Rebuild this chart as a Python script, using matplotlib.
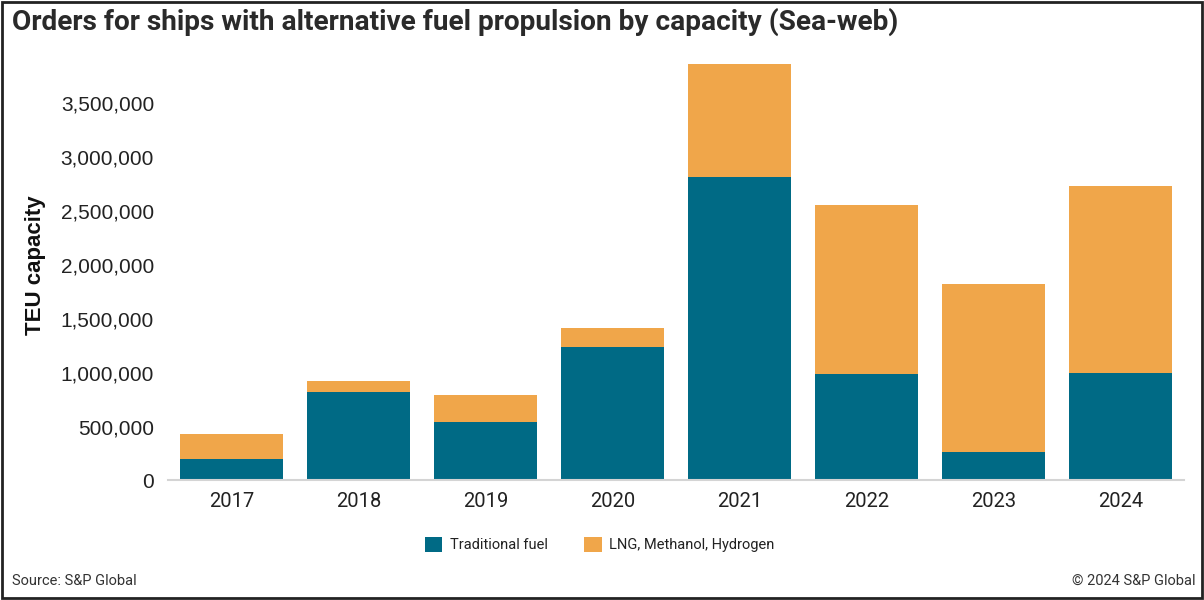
import matplotlib
matplotlib.use("Agg")
import matplotlib.pyplot as plt
from matplotlib.patches import Rectangle, Patch
from matplotlib.ticker import FuncFormatter

plt.rcParams['font.family'] = ['Roboto', 'DejaVu Sans']

years = ["2017", "2018", "2019", "2020", "2021", "2022", "2023", "2024"]
traditional = [202000, 819000, 539000, 1233000, 2813000, 986000, 264000, 993000]
alternative = [226000, 102000, 255000, 182000, 1050000, 1565000, 1553000, 1740000]
series_names = ["Traditional fuel", "LNG, Methanol, Hydrogen"]
colors = ["#006A85", "#F0A64A"]
yticks = [0, 500000, 1000000, 1500000, 2000000, 2500000, 3000000, 3500000]

fig = plt.figure(figsize=(12.04, 6.0), dpi=100)
ax = fig.add_axes([0.1395, 0.1992, 0.8439, 0.7192])

x = list(range(len(years)))
ax.bar(x, traditional, width=0.805, color=colors[0], label=series_names[0], zorder=2)
ax.bar(x, alternative, width=0.805, bottom=traditional, color=colors[1], label=series_names[1], zorder=2)

ax.set_xlim(-0.5, len(years) - 0.5)
ax.set_ylim(0, 4000000)
ax.set_yticks(yticks)
ax.yaxis.set_major_formatter(FuncFormatter(lambda v, p: f"{int(v):,}"))
ax.set_xticks(x)
ax.set_xticklabels(years)
for s in ["top", "right", "left"]:
    ax.spines[s].set_visible(False)
ax.spines["bottom"].set_color("#d4d4d4")
ax.spines["bottom"].set_linewidth(1.5)
ax.tick_params(axis="both", length=0, colors="#222222")
ax.tick_params(axis="x", labelsize=14.5, pad=8)
ax.tick_params(axis="y", pad=10)
for lab in ax.get_yticklabels():
    lab.set_fontfamily(["Liberation Sans", "DejaVu Sans"])
    lab.set_fontsize(15)

fig.text(0.0294, 0.558, "TEU capacity", rotation=90, fontsize=16, fontweight="bold",
         color="#111111", ha="center", va="center", family=["Liberation Sans", "DejaVu Sans"])

fig.text(0.010, 0.963, "Orders for ships with alternative fuel propulsion by capacity (Sea-web)",
         fontsize=20.2, fontweight="bold", color="#2a2a2a", ha="left", va="center")

handles = [Patch(facecolor=colors[0], edgecolor="none"), Patch(facecolor=colors[1], edgecolor="none")]
fig.legend(handles, series_names, loc="center", bbox_to_anchor=(0.498, 0.092), ncol=2,
           frameon=False, fontsize=10.5, handlelength=1.2, handleheight=1.2,
           handletextpad=0.5, columnspacing=2.5, labelcolor="#222222")

fig.text(0.010, 0.032, "Source: S&P Global", fontsize=10.5, color="#333333", ha="left", va="center")
fig.text(0.993, 0.032, "\u00a9 2024 S&P Global", fontsize=10.5, color="#333333", ha="right", va="center")

fig.patches.append(Rectangle((0.002, 0.004), 0.996, 0.992, transform=fig.transFigure,
                             fill=False, edgecolor="#222222", linewidth=2))

fig.savefig("out.png", dpi=100, facecolor="white")
